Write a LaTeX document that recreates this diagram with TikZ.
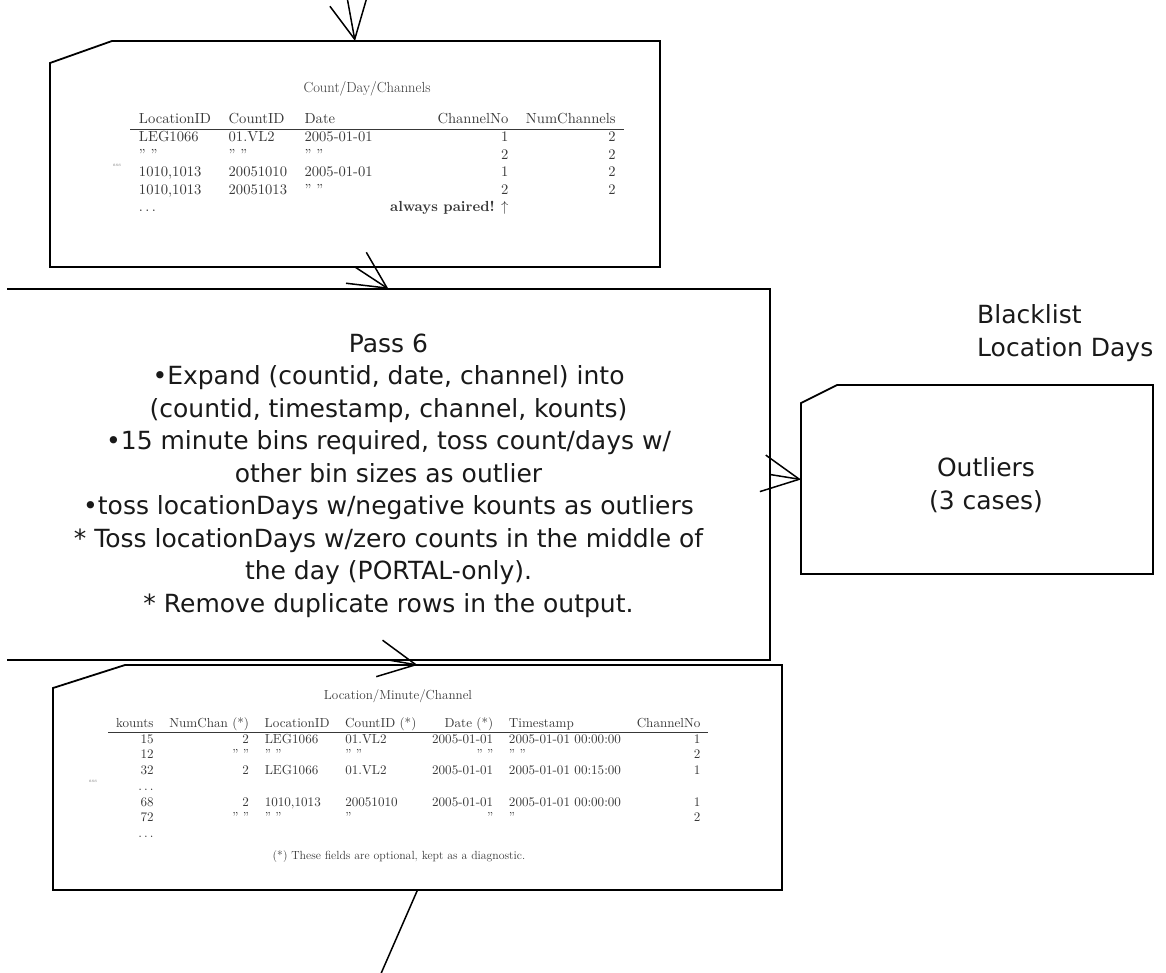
\documentclass[tikz,border=0pt]{standalone}
\usepackage{fontspec}
\usepackage{graphicx}
\usetikzlibrary{arrows.meta,calc}
\newfontfamily\dejavu{DejaVu Sans}
\newfontfamily\tabfont[Ligatures=TeX]{Latin Modern Roman}
\begin{document}
\begin{tikzpicture}[x=1pt,y=-1pt,
  area/.style={draw=none,inner sep=0,outer sep=0},
  outline/.style={line width=1.8pt,line join=miter},
  flow/.style={line width=1.5pt,-{Straight Barb[length=37pt,width=37pt]}},
  plainflow/.style={line width=1.5pt},
  bigtext/.style={font=\dejavu\fontsize{25}{32.5}\selectfont,align=center,inner sep=0,text=black!90},
  tabcap/.style={inner sep=0,text=black!78},
  tinymark/.style={inner sep=0,text=black!55,font=\tabfont\fontsize{5}{6}\selectfont}]
\useasboundingbox (0,0) rectangle (1166,972);
\clip (0,0) rectangle (1166,972);

% box areas
\node[area,minimum width=610pt,minimum height=226pt] (cdc) at (355,154) {};
\node[area,minimum width=763pt,minimum height=371pt] (pass6) at (388.5,474.5) {};
\node[area,minimum width=352pt,minimum height=189pt] (outl) at (977,479.5) {};
\node[area,minimum width=729pt,minimum height=225pt] (loc) at (417.5,777.5) {};

% outlines with a cut top-left corner
\draw[outline] ([yshift=-22pt]cdc.north west) -- ([xshift=62pt]cdc.north west)
  -- (cdc.north east) -- (cdc.south east) -- (cdc.south west) -- cycle;
\draw[outline] (pass6.north west) -- (pass6.north east) -- (pass6.south east) -- (pass6.south west);
\draw[outline] ([yshift=-18pt]outl.north west) -- ([xshift=36pt]outl.north west)
  -- (outl.north east) -- (outl.south east) -- (outl.south west) -- cycle;
\draw[outline] ([yshift=-23pt]loc.north west) -- ([xshift=72pt]loc.north west)
  -- (loc.north east) -- (loc.south east) -- (loc.south west) -- cycle;

% Count/Day/Channels table
\node[tabcap,anchor=base,font=\tabfont\fontsize{14.6}{17.5}\selectfont] (cdctitle) at (367,92.5) {Count/Day/Channels};
\node[tabcap,anchor=base west] (cdctab) at (130,123.5) {\tabfont\scalebox{1.46}{\fontsize{10}{12}\selectfont
  \begin{tabular}[t]{lllrr}
  LocationID & CountID & Date & ChannelNo & NumChannels\\ \hline
  LEG1066 & 01.VL2 & 2005-01-01 & 1 & 2\\
  '' '' & '' '' & '' '' & 2 & 2\\
  1010,1013 & 20051010 & 2005-01-01 & 1 & 2\\
  1010,1013 & 20051013 & '' '' & 2 & 2\\
  $\ldots$ & & & \textbf{always paired!} $\uparrow$ &
  \end{tabular}}};
\node[tinymark] (cdcmark) at (117,165) {sss};

% Pass 6 description
\node[bigtext] (p6text) at (388.5,475.5) {Pass 6\\
  •Expand (countid, date, channel) into\\
  (countid, timestamp, channel, kounts)\\
  •15 minute bins required, toss count/days w/\\
  other bin sizes as outlier\\
  •toss locationDays w/negative kounts as outliers\\
  * Toss locationDays w/zero counts in the middle of\\
  the day (PORTAL-only).\\
  * Remove duplicate rows in the output.};

% outliers
\node[bigtext] (outltext) at (986,485) {Outliers\\(3 cases)};
\node[bigtext,align=left,anchor=west] (blabel) at (977,333) {Blacklist\\Location Days};

% Location/Minute/Channel table
\node[tabcap,anchor=base,font=\tabfont\fontsize{13.1}{15.7}\selectfont] (loctitle) at (398,699) {Location/Minute/Channel};
\node[tabcap,anchor=base west] (loctab) at (108,727) {\tabfont\scalebox{1.31}{\fontsize{10}{12}\selectfont
  \begin{tabular}[t]{rrllrlr}
  kounts & NumChan (*) & LocationID & CountID (*) & Date (*) & Timestamp & ChannelNo\\ \hline
  15 & 2 & LEG1066 & 01.VL2 & 2005-01-01 & 2005-01-01 00:00:00 & 1\\
  12 & '' '' & '' '' & '' '' & '' '' & '' '' & 2\\
  32 & 2 & LEG1066 & 01.VL2 & 2005-01-01 & 2005-01-01 00:15:00 & 1\\
  $\ldots$ & & & & & & \\
  68 & 2 & 1010,1013 & 20051010 & 2005-01-01 & 2005-01-01 00:00:00 & 1\\
  72 & '' '' & '' '' & '' & '' & '' & 2\\
  $\ldots$ & & & & & &
  \end{tabular}}};
\node[tabcap,anchor=base,font=\tabfont\fontsize{11.8}{14}\selectfont] (locnote) at (399,859) {(*) These fields are optional, kept as a diagnostic.};
\node[tinymark] (locmark) at (93,781) {sss};

% connectors
\coordinate (inflow) at (347,-3);
\coordinate (outflow) at (376,985);
\draw[flow] (inflow) -- (cdc.north);
\draw[flow] (cdc.south) -- (pass6.north);
\draw[flow] (pass6.east) -- (outl.west);
\draw[flow] (pass6.south) -- (loc.north);
\draw[plainflow] (loc.south) -- (outflow);
\end{tikzpicture}
\end{document}
